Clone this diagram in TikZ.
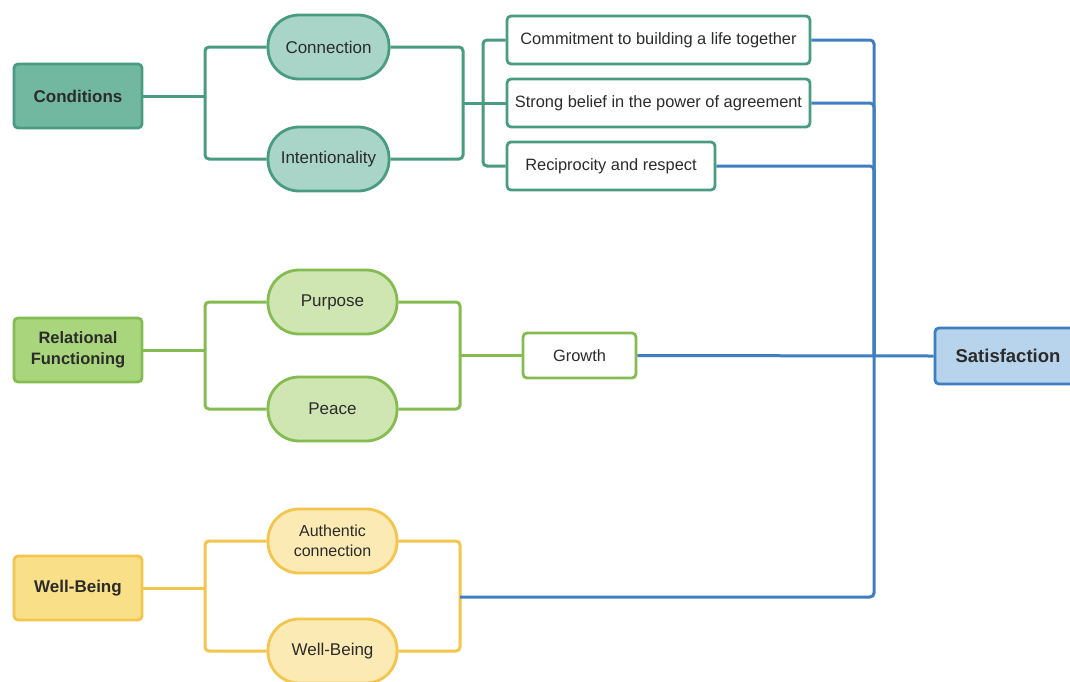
\documentclass[tikz,border=0pt]{standalone}
\usepackage{fontspec}
\setmainfont{Liberation Sans}
\definecolor{tealB}{HTML}{4A9C80}
\definecolor{tealF}{HTML}{72B8A1}
\definecolor{tealP}{HTML}{A8D5C8}
\definecolor{grnB}{HTML}{84BC52}
\definecolor{grnF}{HTML}{A9D67C}
\definecolor{grnP}{HTML}{CFE6B2}
\definecolor{ylwB}{HTML}{F3C54C}
\definecolor{ylwF}{HTML}{F9DF87}
\definecolor{ylwP}{HTML}{FBEAB3}
\definecolor{bluB}{HTML}{3F7FC1}
\definecolor{bluF}{HTML}{B8D3EC}
\definecolor{txt}{HTML}{2B2B2B}
\tikzset{
  base/.style={line width=2.8pt, text=txt, align=center, inner sep=0pt},
  root/.style={base, rounded corners=4pt, minimum width=128pt, minimum height=64pt, font=\fontsize{17}{20}\selectfont\bfseries},
  pill/.style={base, rounded corners=31pt, minimum height=64pt, font=\fontsize{17}{20}\selectfont},
  leaf/.style={base, rounded corners=4pt, fill=white, minimum height=48pt, font=\fontsize{16.4}{19}\selectfont},
  conn/.style={line width=3pt, rounded corners=4pt},
}
\begin{document}
\begin{tikzpicture}[x=1pt,y=-1pt]
\useasboundingbox (0,0) rectangle (1070,681);
\fill[white] (0,0) rectangle (1070,681);
% Conditions group
\node[root, draw=tealB, fill=tealF] (cond) at (78,96) {Conditions};
\node[pill, draw=tealB, fill=tealP, minimum width=121pt] (conn) at (328.5,47) {Connection};
\node[pill, draw=tealB, fill=tealP, minimum width=121pt] (intn) at (328.5,159) {Intentionality};
\node[leaf, draw=tealB, minimum width=303pt] (com) at (658.5,40) {Commitment to building a life together};
\node[leaf, draw=tealB, minimum width=303pt] (str) at (658.5,103) {Strong belief in the power of agreement};
\node[leaf, draw=tealB, minimum width=208pt] (rec) at (611,166) {Reciprocity and respect};
\coordinate (cb1) at (205,96);
\coordinate (cb2) at (463,103);
\coordinate (cb3) at (483,103);
\draw[conn, tealB] (conn.west) -| (cb1) |- (intn.west);
\draw[conn, tealB] (cond.east) -- (cb1);
\draw[conn, tealB] (conn.east) -| (cb2) |- (intn.east);
\draw[conn, tealB] (cb2) -- (cb3);
\draw[conn, tealB] (com.west) -| (cb3) |- (rec.west);
\draw[conn, tealB] (cb3) -- (str.west);
% Relational functioning group
\node[root, draw=grnB, fill=grnF, font=\fontsize{16.5}{21}\selectfont\bfseries] (rel) at (78,350) {Relational\\Functioning};
\node[pill, draw=grnB, fill=grnP, minimum width=129pt] (pur) at (332.5,302) {Purpose};
\node[pill, draw=grnB, fill=grnP, minimum width=129pt] (pea) at (332.5,409) {Peace};
\node[leaf, draw=grnB, minimum width=113pt, minimum height=45pt] (gro) at (579.5,355.5) {Growth};
\coordinate (gb1) at (205,350);
\coordinate (gb2) at (460,355.5);
\draw[conn, grnB] (pur.west) -| (gb1) |- (pea.west);
\draw[conn, grnB] (rel.east) -- (gb1);
\draw[conn, grnB] (pur.east) -| (gb2) |- (pea.east);
\draw[conn, grnB] (gb2) -- (gro.west);
% Well-being group
\node[root, draw=ylwB, fill=ylwF] (wb) at (78,588) {Well-Being};
\node[pill, draw=ylwB, fill=ylwP, minimum width=129pt, font=\fontsize{16}{19.5}\selectfont] (auth) at (332.5,541) {Authentic\\connection};
\node[pill, draw=ylwB, fill=ylwP, minimum width=129pt] (wbp) at (332.5,651) {Well-Being};
\coordinate (yb1) at (205,588);
\coordinate (yb2) at (460,597);
\draw[conn, ylwB] (auth.west) -| (yb1) |- (wbp.west);
\draw[conn, ylwB] (wb.east) -- (yb1);
\draw[conn, ylwB] (auth.east) -| (yb2) |- (wbp.east);
% Satisfaction
\node[root, draw=bluB, fill=bluF, minimum width=146pt, minimum height=56pt, font=\fontsize{18.5}{22}\selectfont\bfseries] (sat) at (1008,356) {Satisfaction};
\coordinate (hub) at (874,356);
\draw[conn, bluB] (com.east) -| (hub) |- (yb2);
\draw[conn, bluB] (str.east) -| (hub);
\draw[conn, bluB] (rec.east) -| (hub);
\draw[conn, bluB] (gro.east) -- (sat.west);
\end{tikzpicture}
\end{document}
